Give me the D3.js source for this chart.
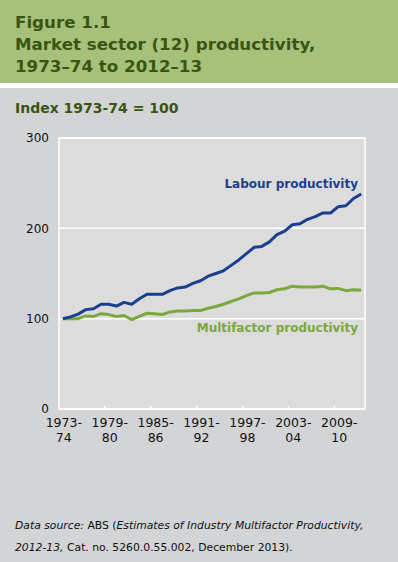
<!DOCTYPE html>
<html>
<head>
<meta charset="utf-8">
<script src="https://cdn.jsdelivr.net/npm/d3@7"></script>
<style>
	body { margin: 0; background: #d3d4d6; }
	svg { display: block; font-family: "DejaVu Sans", Verdana, sans-serif; }
</style>
</head>
<body>
<div id="chart"></div>
<script>
// financial years 1973-74 .. 2012-13
const years = d3.range(1973, 2013).map(y => y + "-" + String((y + 1) % 100).padStart(2, "0"));

// index 1973-74 = 100
const labour = [100, 102, 105, 110, 111, 116, 116, 114, 118, 116,
	122, 127, 127, 127, 131, 134, 135, 139, 142, 147,
	150, 153, 159, 165, 172, 179, 180, 185, 193, 197,
	204, 205, 210, 213, 217, 217, 224, 225, 233, 238];
const multifactor = [100, 100, 100, 103, 102.5, 105.5, 104.5, 102.5, 103.5, 99,
	102.5, 106, 105.5, 104.5, 107.5, 108.5, 108.5, 109, 109, 111.5,
	113.5, 116, 119, 122, 125.5, 128.5, 128.5, 129, 132, 133,
	136, 135, 135, 135, 136, 133, 133.5, 131, 132, 131.5];

const yTicks = [0, 100, 200, 300];
const xTickYears = ["1973-74", "1979-80", "1985-86", "1991-92", "1997-98", "2003-04", "2009-10"];

const W = 398, H = 562;
const margin = {top: 138, right: 33, bottom: 153, left: 59};
const width = W - margin.left - margin.right;
const height = H - margin.top - margin.bottom;

const svg = d3.select("#chart").append("svg")
	.attr("width", W)
	.attr("height", H);

// header band
svg.append("rect").attr("width", W).attr("height", 83).attr("fill", "#a6c17a");
svg.append("rect").attr("y", 83).attr("width", W).attr("height", 5).attr("fill", "#ffffff");
svg.append("rect").attr("y", 88).attr("width", W).attr("height", H - 88).attr("fill", "#d3d4d6");

const title = svg.append("text")
	.attr("x", 15)
	.attr("font-weight", "bold")
	.attr("font-size", 16.7)
	.attr("fill", "#3b5414");
["Figure 1.1", "Market sector (12) productivity,", "1973\u201374 to 2012\u201313"].forEach((t, i) => {
	title.append("tspan").attr("x", 15).attr("y", 28 + i * 22).text(t);
});

svg.append("text")
	.attr("x", 15).attr("y", 113)
	.attr("font-weight", "bold")
	.attr("font-size", 14)
	.attr("fill", "#3b5414")
	.text("Index 1973-74 = 100");

const g = svg.append("g")
	.attr("transform", "translate(" + margin.left + "," + margin.top + ")");

// scales
const x = d3.scaleBand().domain(years).range([0, width]);
const y = d3.scaleLinear().domain([0, 300]).range([height, 0]);

// plot background
g.append("rect")
	.attr("width", width).attr("height", height)
	.attr("fill", "#dcdcdc")
	.attr("stroke", "#ffffff")
	.attr("stroke-width", 1.5);

// gridlines
g.selectAll(".grid").data(yTicks).join("line")
	.attr("class", "grid")
	.attr("x1", 0).attr("x2", width)
	.attr("y1", d => y(d)).attr("y2", d => y(d))
	.attr("stroke", "#ffffff")
	.attr("stroke-width", 1.5);

// y axis labels
const yAxis = d3.axisLeft(y).tickValues(yTicks).tickSize(0).tickPadding(10);
g.append("g").call(yAxis)
	.call(a => a.select(".domain").remove())
	.selectAll("text")
	.attr("font-family", "DejaVu Sans, Verdana, sans-serif")
	.attr("font-size", 12)
	.attr("fill", "#111111");

// x tick marks at band edges, pointing up
g.selectAll(".xtick").data(xTickYears.slice(1)).join("line")
	.attr("class", "xtick")
	.attr("x1", d => x(d)).attr("x2", d => x(d))
	.attr("y1", height).attr("y2", height - 3)
	.attr("stroke", "#ffffff")
	.attr("stroke-width", 1.5);

// x labels, two lines, centred on band
const xAxis = d3.axisBottom(x).tickValues(xTickYears).tickSize(0).tickFormat("");
const xg = g.append("g").attr("transform", "translate(0," + height + ")").call(xAxis);
xg.select(".domain").remove();
xg.selectAll(".tick").each(function (d) {
	const t = d3.select(this).append("text")
		.attr("font-family", "DejaVu Sans, Verdana, sans-serif")
		.attr("font-size", 12.5)
		.attr("fill", "#111111")
		.attr("text-anchor", "middle");
	const parts = d.split("-");
	t.append("tspan").attr("x", 1).attr("y", 18).text(parts[0] + "-");
	t.append("tspan").attr("x", 1).attr("y", 33).text(parts[1]);
});

// lines
const line = d3.line()
	.x((d, i) => x(years[i]) + x.bandwidth() / 2)
	.y(d => y(d));

g.append("path").datum(multifactor)
	.attr("fill", "none")
	.attr("stroke", "#7aa83c")
	.attr("stroke-width", 3)
	.attr("stroke-linejoin", "round")
	.attr("d", line);

g.append("path").datum(labour)
	.attr("fill", "none")
	.attr("stroke", "#1b3f8f")
	.attr("stroke-width", 3)
	.attr("stroke-linejoin", "round")
	.attr("d", line);

// series labels
g.append("text")
	.attr("x", width - 7).attr("y", y(238) - 6)
	.attr("text-anchor", "end")
	.attr("font-weight", "bold")
	.attr("font-size", 12)
	.attr("fill", "#1b3f8f")
	.text("Labour productivity");

g.append("text")
	.attr("x", width - 7).attr("y", y(100) + 13)
	.attr("text-anchor", "end")
	.attr("font-weight", "bold")
	.attr("font-size", 12)
	.attr("fill", "#7aa83c")
	.text("Multifactor productivity");

// source note
const src = svg.append("text")
	.attr("x", 15)
	.attr("font-size", 10.8)
	.attr("fill", "#111111");
const l1 = src.append("tspan").attr("x", 15).attr("y", 529);
l1.append("tspan").attr("font-style", "italic").text("Data source: ");
l1.append("tspan").text("ABS (");
l1.append("tspan").attr("font-style", "italic").text("Estimates of Industry Multifactor Productivity,");
const l2 = src.append("tspan").attr("x", 15).attr("y", 551);
l2.append("tspan").attr("font-style", "italic").text("2012-13,");
l2.append("tspan").text(" Cat. no. 5260.0.55.002, December 2013).");
</script>
</body>
</html>
